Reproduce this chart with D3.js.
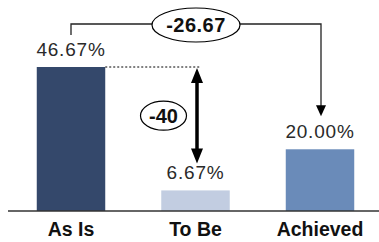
<!DOCTYPE html>
<html>
<head>
<meta charset="utf-8">
<script src="https://cdn.jsdelivr.net/npm/d3@7"></script>
<style>
body{margin:0;background:#fff;}
text{font-family:"Liberation Sans",Arial,sans-serif;}
</style>
</head>
<body>
<svg id="chart" width="379" height="242"></svg>
<script>
var categories=["As Is","To Be","Achieved"];
var values=[46.67,6.67,20.00];
var barColors=["#34486b","#c2cde1","#6a8bb9"];
var valueLabels=["46.67%","6.67%","20.00%"];
var diffLabels=["-40","-26.67"];

var width=379,height=242;
var svg=d3.select("#chart");

var xScale=d3.scaleBand()
.domain(categories)
.range([8.75,382.25])
.paddingInner(0.45)
.paddingOuter(0.225);

var yScale=d3.scaleLinear()
.domain([0,46.67])
.range([211,67]);

var cx=d=>xScale(d)+xScale.bandwidth()/2;

// bars
svg.selectAll(".bar")
.data(categories)
.enter()
.append("rect")
.classed("bar",true)
.attr("x",d=>xScale(d))
.attr("y",(d,i)=>yScale(values[i]))
.attr("width",xScale.bandwidth())
.attr("height",(d,i)=>yScale(0)-yScale(values[i]))
.attr("fill",(d,i)=>barColors[i]);

// value labels
svg.selectAll(".valLabel")
.data(categories)
.enter()
.append("text")
.classed("valLabel",true)
.attr("x",d=>cx(d))
.attr("y",(d,i)=>yScale(values[i])-11)
.attr("text-anchor","middle")
.attr("font-size","19px")
.attr("letter-spacing","0.8px")
.attr("fill","#2a2a2a")
.text((d,i)=>valueLabels[i]);

// axis baseline + category labels
var xAxis=d3.axisBottom(xScale).tickSize(0).tickPadding(11);
var gx=svg.append("g")
.attr("transform","translate(0,"+yScale(0)+")")
.call(xAxis);
gx.select(".domain")
.attr("d","M8,0H379")
.attr("stroke","#333")
.attr("stroke-width",1.5);
gx.selectAll("text")
.attr("font-size","19.5px")
.attr("font-weight","bold")
.attr("font-family","'Liberation Sans',Arial,sans-serif")
.attr("fill","#111");

// dotted reference line from As Is top
var topY=yScale(values[0]);
svg.append("line")
.attr("x1",xScale(categories[0])+xScale.bandwidth())
.attr("x2",cx(categories[1])+5)
.attr("y1",topY)
.attr("y2",topY)
.attr("stroke","#000")
.attr("stroke-width",1)
.attr("stroke-dasharray","2,2");

// double arrow As Is -> To Be
var ax=cx(categories[1])+1.5;
var aTop=topY+1;
var aBot=yScale(values[1])-27;
svg.append("line")
.attr("x1",ax).attr("x2",ax)
.attr("y1",aTop+12).attr("y2",aBot-12)
.attr("stroke","#000")
.attr("stroke-width",3.5);
svg.append("path")
.attr("d",`M${ax},${aTop}L${ax-6},${aTop+15}L${ax+6},${aTop+15}Z`)
.attr("fill","#000");
svg.append("path")
.attr("d",`M${ax},${aBot}L${ax-6},${aBot-15}L${ax+6},${aBot-15}Z`)
.attr("fill","#000");

// -40 bubble
var b1x=cx(categories[1])-32,b1y=(aTop+aBot)/2;
svg.append("ellipse")
.attr("cx",b1x).attr("cy",b1y)
.attr("rx",23).attr("ry",14.5)
.attr("fill","#fff")
.attr("stroke","#000")
.attr("stroke-width",1.2);
svg.append("text")
.attr("x",b1x).attr("y",b1y+7)
.attr("text-anchor","middle")
.attr("font-size","20px")
.attr("font-weight","bold")
.attr("fill","#111")
.text(diffLabels[0]);

// bracket As Is -> Achieved
var lx=cx(categories[0]),rx=cx(categories[2])+1;
var brY=24;
var lStart=yScale(values[0])-32;
var rEnd=yScale(values[2])-33;
svg.append("path")
.attr("d",`M${lx},${lStart}V${brY}H${rx}V${rEnd-10}`)
.attr("fill","none")
.attr("stroke","#222")
.attr("stroke-width",1.3);
svg.append("path")
.attr("d",`M${rx},${rEnd}L${rx-5},${rEnd-11}L${rx+5},${rEnd-11}Z`)
.attr("fill","#000");

var b2x=(lx+rx)/2;
svg.append("ellipse")
.attr("cx",b2x).attr("cy",brY+1)
.attr("rx",44).attr("ry",17)
.attr("fill","#fff")
.attr("stroke","#000")
.attr("stroke-width",1.2);
svg.append("text")
.attr("x",b2x).attr("y",brY+8)
.attr("text-anchor","middle")
.attr("font-size","20px")
.attr("font-weight","bold")
.attr("letter-spacing","0.5px")
.attr("fill","#111")
.text(diffLabels[1]);
</script>
</body>
</html>
